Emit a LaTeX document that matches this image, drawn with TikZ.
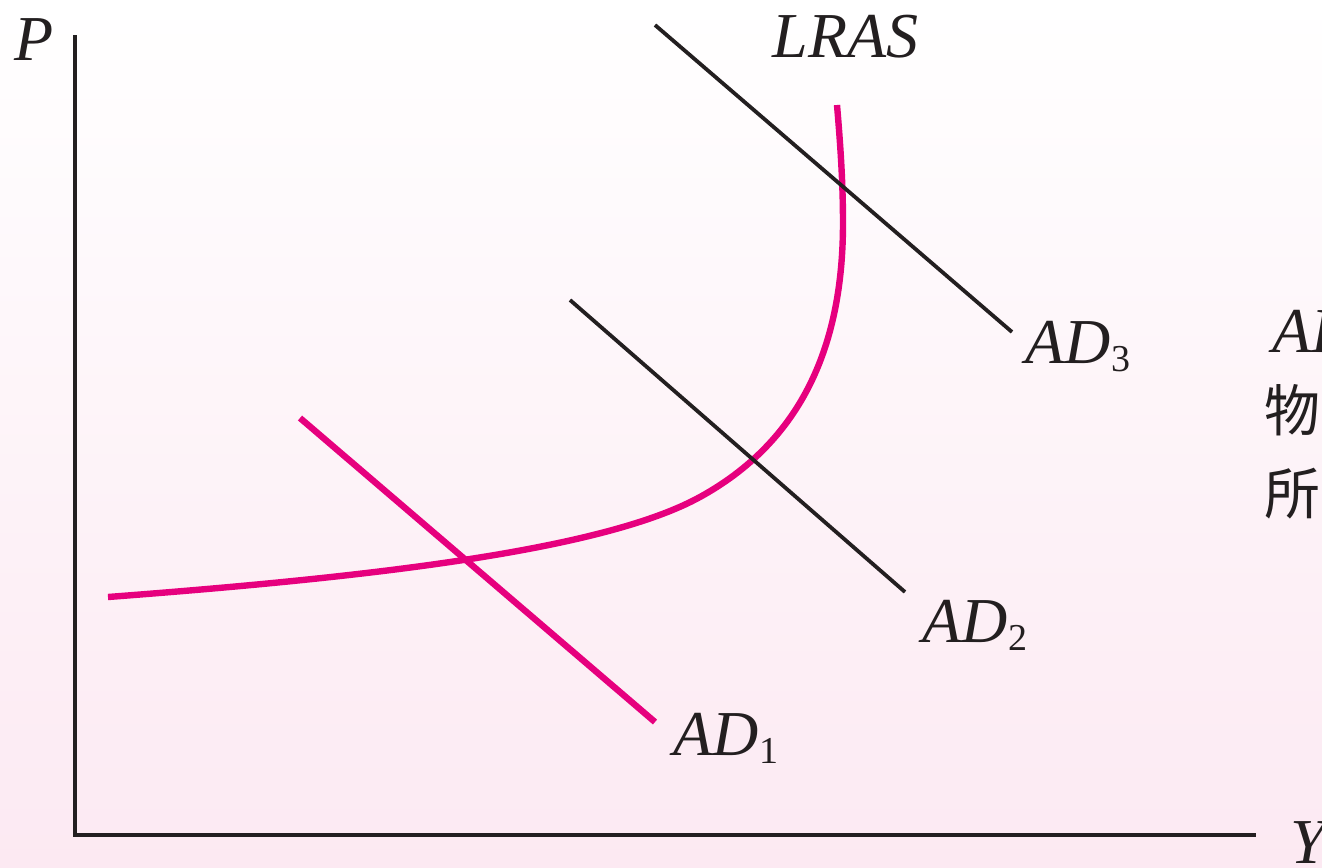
\documentclass[tikz,border=0pt]{standalone}
\usepackage{fontspec}
\setmainfont{Liberation Serif}
\newfontfamily\cjk{Noto Sans CJK SC}
\usetikzlibrary{positioning}
\definecolor{curvepink}{RGB}{230,0,126}
\definecolor{bgpink}{RGB}{252,233,242}
\definecolor{inkgray}{RGB}{35,31,32}
\newcommand{\adlabel}[1]{\textit{AD}\raisebox{-2pt}{\fontsize{9.5}{10}\selectfont #1}}

\begin{document}
\begin{tikzpicture}[x=0.25pt,y=-0.25pt,
  every node/.style={inner sep=0pt,text=inkgray,font=\fontsize{16}{18}\selectfont},
  axisline/.style={inkgray,line width=1pt},
  adline/.style={inkgray,line width=0.95pt},
  pinkline/.style={curvepink,line width=1.6pt}]
\useasboundingbox (0,0) rectangle (1322,868);
\shade[top color=white,bottom color=bgpink] (0,0) rectangle (1322,868);
\begin{scope}
\clip (0,0) rectangle (1322,868);
% axes
\coordinate (O) at (75,835);
\coordinate (ytop) at (75,35);
\coordinate (xend) at (1256,835);
\draw[axisline] (ytop)--(O)--(xend);
\node[anchor=base west] (plbl) at (14,60) {\textit{P}};
\node[anchor=base west] (ylbl) at (1290,863) {\textit{Y}};
% supply curve
\draw[pinkline] (108,597)..controls(358,578)and(600,552)..(700,497)
  ..controls(810,436.5)and(843,333)..(843,223)
  ..controls(843,180)and(840,140)..(837,105);
\node[anchor=base west] (lras) at (772,57) {\textit{LRAS}};
% demand lines
\coordinate (ad1a) at (300,418);
\coordinate (ad1b) at (655,722);
\coordinate (ad2a) at (570,300);
\coordinate (ad2b) at (905,592);
\coordinate (ad3a) at (655,25);
\coordinate (ad3b) at (1012,332);
\draw[pinkline] (ad1a)--(ad1b);
\draw[adline] (ad2a)--(ad2b);
\draw[adline] (ad3a)--(ad3b);
\node[anchor=base west] (ad1) at (673,755) {\adlabel{1}};
\node[anchor=base west] (ad2) at (922,642) {\adlabel{2}};
\node[anchor=base west] (ad3) at (1025,363) {\adlabel{3}};
% cut-off note on the right
\node[anchor=base west] (note1) at (1272,352) {\textit{AD}};
\node[anchor=north west,font=\cjk\fontsize{14}{16}\selectfont] (note2) at (1264,384) {物};
\node[anchor=north west,font=\cjk\fontsize{14}{16}\selectfont] (note3) at (1264,467) {所};
\end{scope}
\end{tikzpicture}
\end{document}
